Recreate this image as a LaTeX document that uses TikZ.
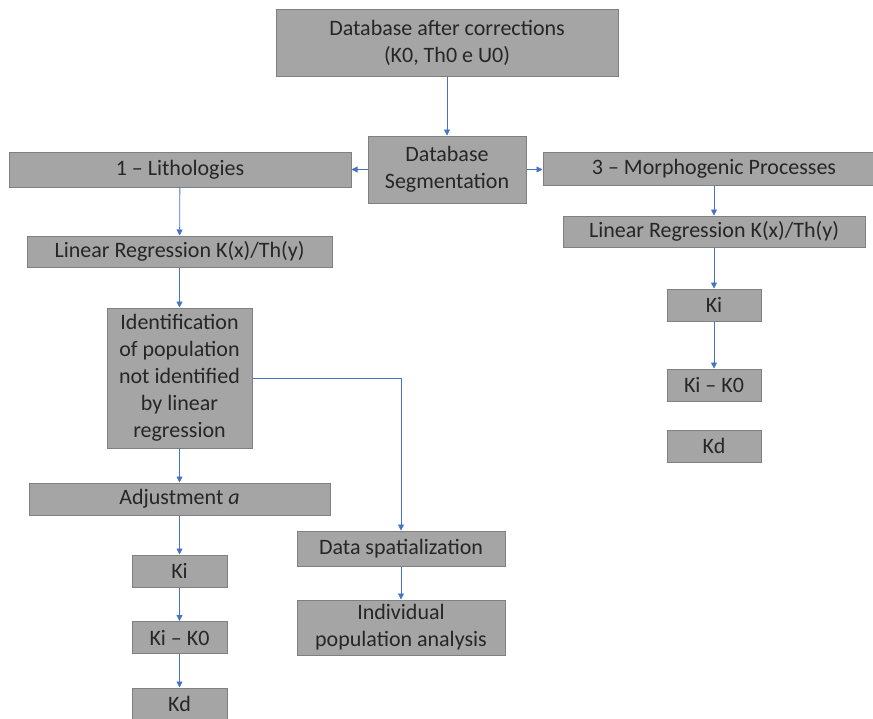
\documentclass[tikz,border=0pt]{standalone}
\usepackage{fontspec}
\setmainfont{Carlito}
\usetikzlibrary{arrows.meta}
\definecolor{boxfill}{HTML}{A5A5A5}
\definecolor{boxline}{HTML}{808080}
\definecolor{flowblue}{HTML}{4472C4}
\begin{document}
\begin{tikzpicture}[x=1pt,y=-1pt,>={Triangle[length=6pt,width=6pt]},
  box/.style={draw=boxline,fill=boxfill,line width=1pt,inner sep=0pt,
    align=center,text=black!85,font=\fontsize{22}{27}\selectfont},
  flow/.style={->,flowblue,line width=0.8pt}]
  \useasboundingbox (0,0) rectangle (873,718);

  % top of the chart
  \node[box,minimum width=342,minimum height=67] (db) at (447,42.5)
    {Database after corrections\\(K0, Th0 e U0)};
  \node[box,minimum width=158,minimum height=67] (seg) at (447,169.5)
    {Database\\Segmentation};
  \node[box,minimum width=342,minimum height=35] (lith) at (180,169.5)
    {1 -- Lithologies};
  \node[box,minimum width=342,minimum height=33] (morph) at (714,168.5)
    {3 -- Morphogenic Processes};

  % left branch
  \node[box,minimum width=305,minimum height=31] (linL) at (179.5,251.5)
    {Linear Regression K(x)/Th(y)};
  \node[box,minimum width=145,minimum height=140] (ident) at (179.5,378)
    {Identification\\of population\\not identified\\by linear\\regression};
  \node[box,minimum width=301,minimum height=32] (adj) at (179.5,499)
    {Adjustment \textit{a}};
  \node[box,minimum width=95,minimum height=32] (kiL) at (179.5,571) {Ki};
  \node[box,minimum width=95,minimum height=32] (kikL) at (179.5,637.5) {Ki -- K0};
  \node[box,minimum width=95,minimum height=32] (kdL) at (179.5,704) {Kd};

  % spatial analysis
  \node[box,minimum width=208,minimum height=35] (dsp) at (401,548.5)
    {Data spatialization};
  \node[box,minimum width=208,minimum height=55] (ind) at (401,627.5)
    {Individual\\population analysis};

  % right branch
  \node[box,minimum width=302,minimum height=31] (linR) at (714,231.5)
    {Linear Regression K(x)/Th(y)};
  \node[box,minimum width=94,minimum height=32] (kiR) at (714,305) {Ki};
  \node[box,minimum width=94,minimum height=32] (kikR) at (714,385) {Ki -- K0};
  \node[box,minimum width=94,minimum height=32] (kdR) at (714,446) {Kd};

  % connectors
  \draw[flow] (db) -- (seg);
  \draw[flow] (seg) -- (lith);
  \draw[flow] (seg) -- (morph.west |- seg);
  \draw[flow] (lith) -- (linL);
  \draw[flow] (linL) -- (ident);
  \draw[flow] (ident) -- (adj);
  \draw[flow] (adj) -- (kiL);
  \draw[flow] (kiL) -- (kikL);
  \draw[flow] (kikL) -- (kdL);
  \draw[flow] (ident.east) -| (dsp.north);
  \draw[flow] (dsp) -- (ind);
  \draw[flow] (morph) -- (linR);
  \draw[flow] (linR) -- (kiR);
  \draw[flow] (kiR) -- (kikR);
\end{tikzpicture}
\end{document}
